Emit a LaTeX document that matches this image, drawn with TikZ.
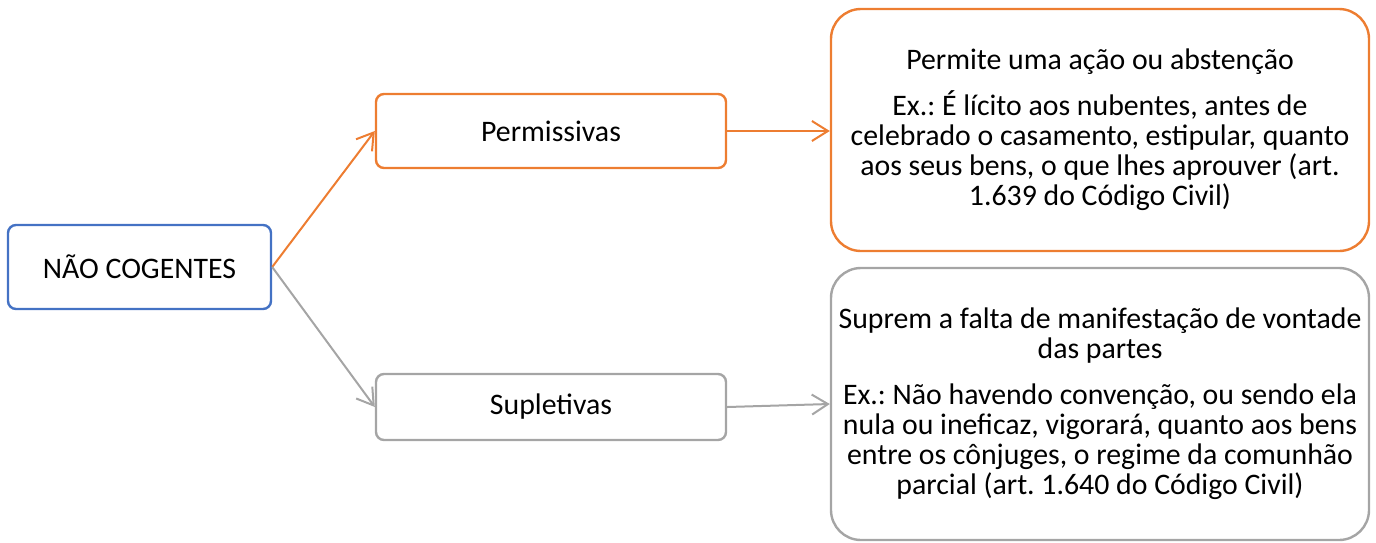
\documentclass[tikz,border=0pt]{standalone}
\usepackage{fontspec}
\setmainfont{Carlito}
\usetikzlibrary{arrows.meta}
\frenchspacing

\definecolor{ncblue}{HTML}{4472C4}
\definecolor{permorange}{HTML}{ED7D31}
\definecolor{supgray}{HTML}{A5A5A5}

\begin{document}
\begin{tikzpicture}[x=0.5pt,y=-0.5pt,>/.tip={Straight Barb[length=8pt,width=10pt]},
	box/.style={draw,rounded corners=4pt,line width=1.2pt,inner sep=0pt,align=center,font=\fontsize{14.9}{15}\selectfont},
	bigbox/.style={box,rounded corners=15pt,minimum width=269pt}]
	\useasboundingbox (0,0) rectangle (1376,542);
	\draw (139.5,267) node (nc) [box,draw=ncblue,minimum width=131.5pt,minimum height=42pt] {NÃO COGENTES};
	\draw (551,131) node (perm) [box,draw=permorange,minimum width=175pt,minimum height=37pt] {Permissivas};
	\draw (551,407) node (sup) [box,draw=supgray,minimum width=175pt,minimum height=33pt] {Supletivas};
	\draw (1100,130) node (permex) [bigbox,draw=permorange,minimum height=121pt] {Permite uma ação ou abstenção\\[8pt]
		Ex.: É lícito aos nubentes, antes de\\
		celebrado o casamento, estipular, quanto\\
		aos seus bens, o que lhes aprouver (art.\\
		1.639 do Código Civil)};
	\draw (1100,404) node (supex) [bigbox,draw=supgray,minimum height=136pt] {Suprem a falta de manifestação de vontade\\
		das partes\\[8pt]
		Ex.: Não havendo convenção, ou sendo ela\\
		nula ou ineficaz, vigorará, quanto aos bens\\
		entre os cônjuges, o regime da comunhão\\
		parcial (art. 1.640 do Código Civil)};
	\draw[->,permorange,line width=1pt] (nc.east) -- (perm.west);
	\draw[->,supgray,line width=1pt] (nc.east) -- (sup.west);
	\draw[->,permorange,line width=1pt] (perm.east) -- (permex.west |- perm.east);
	\draw[->,supgray,line width=1pt] (sup.east) -- (supex.west);
\end{tikzpicture}
\end{document}
